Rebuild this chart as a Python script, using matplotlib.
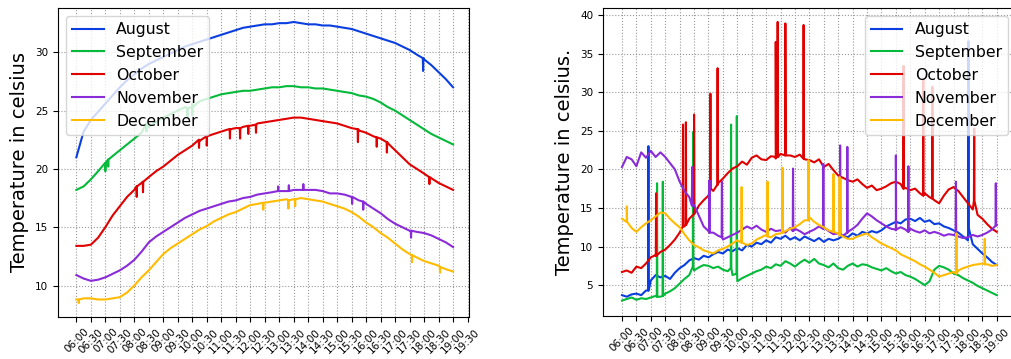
import numpy as np
import matplotlib
matplotlib.use("Agg")
import matplotlib.pyplot as plt

months = ["August", "September", "October", "November", "December"]
colors = ["#0a3ee0", "#05b93a", "#e10000", "#8a2bd8", "#ffbb00"]

tick_labels = ["06:00", "06:30", "07:00", "07:30", "08:00", "08:30", "09:00", "09:30",
               "10:00", "10:30", "11:00", "11:30", "12:00", "12:30", "13:00", "13:30",
               "14:00", "14:30", "15:00", "15:30", "16:00", "16:30", "17:00", "17:30",
               "18:00", "18:30", "19:00", "19:30"]

# ---------------- left chart: 15-minute values (06:00 .. 19:00) ----------------
left_minutes = np.arange(0, 781, 15)
left_aug = [21.0, 23.2, 24.2, 24.9, 25.6, 26.3, 27.0, 27.6, 28.1, 28.6, 29.0, 29.3,
            29.6, 29.9, 30.2, 30.5, 30.7, 30.9, 31.1, 31.3, 31.5, 31.7, 31.9, 32.1,
            32.2, 32.3, 32.4, 32.4, 32.5, 32.5, 32.6, 32.5, 32.4, 32.4, 32.3, 32.3,
            32.2, 32.1, 32.0, 31.8, 31.6, 31.4, 31.2, 31.0, 30.8, 30.5, 30.2, 29.8,
            29.4, 28.9, 28.3, 27.7, 27.0]
left_sep = [18.2, 18.5, 19.1, 19.8, 20.5, 21.1, 21.6, 22.1, 22.6, 23.1, 23.6, 24.0,
            24.4, 24.7, 25.0, 25.3, 25.6, 25.8, 26.0, 26.2, 26.4, 26.5, 26.6, 26.7,
            26.7, 26.8, 26.9, 27.0, 27.0, 27.1, 27.1, 27.0, 27.0, 26.9, 26.9, 26.8,
            26.7, 26.6, 26.5, 26.3, 26.2, 26.0, 25.7, 25.3, 25.0, 24.6, 24.2, 23.8,
            23.4, 23.0, 22.7, 22.4, 22.1]
left_oct = [13.4, 13.4, 13.5, 14.1, 15.0, 16.0, 16.8, 17.6, 18.2, 18.8, 19.3, 19.8,
            20.2, 20.7, 21.2, 21.6, 22.0, 22.4, 22.8, 23.0, 23.2, 23.4, 23.5, 23.6,
            23.7, 23.9, 24.0, 24.1, 24.2, 24.3, 24.4, 24.4, 24.3, 24.2, 24.1, 24.0,
            23.9, 23.7, 23.5, 23.3, 23.1, 22.8, 22.6, 22.2, 21.6, 21.0, 20.4, 20.0,
            19.6, 19.2, 18.8, 18.5, 18.2]
left_nov = [10.9, 10.6, 10.4, 10.5, 10.7, 11.0, 11.3, 11.7, 12.2, 12.9, 13.7, 14.2,
            14.6, 15.0, 15.4, 15.8, 16.1, 16.4, 16.6, 16.8, 17.0, 17.2, 17.3, 17.5,
            17.6, 17.8, 17.9, 18.0, 18.1, 18.1, 18.2, 18.2, 18.2, 18.2, 18.1, 17.9,
            17.9, 17.8, 17.6, 17.3, 17.0, 16.6, 16.2, 15.7, 15.3, 15.0, 14.7, 14.6,
            14.5, 14.3, 14.0, 13.7, 13.3]
left_dec = [8.8, 8.9, 8.9, 8.8, 8.8, 8.9, 9.0, 9.4, 10.0, 10.7, 11.3, 12.0,
            12.7, 13.2, 13.6, 14.0, 14.4, 14.8, 15.1, 15.5, 15.8, 16.1, 16.3, 16.6,
            16.9, 17.0, 17.1, 17.2, 17.3, 17.4, 17.4, 17.5, 17.4, 17.3, 17.2, 17.0,
            16.8, 16.6, 16.3, 15.9, 15.4, 15.0, 14.5, 14.1, 13.6, 13.1, 12.7, 12.4,
            12.1, 11.9, 11.7, 11.4, 11.2]

# spikes: (minute after 06:00, base value, spike value)
left_spk_aug = [(718, 29.5, 28.4)]
left_spk_sep = [(60, 20.5, 19.8), (66, 20.8, 20.2), (145, 23.9, 23.2), (230, 25.2, 24.5), (240, 25.3, 24.6)]
left_spk_oct = [(125, 18.5, 17.6), (138, 18.9, 18.0), (254, 22.5, 21.8), (270, 22.8, 22.0),
                (318, 23.4, 22.6), (339, 23.5, 22.6), (356, 23.7, 23.0), (372, 23.8, 23.1),
                (583, 23.4, 22.3), (622, 22.7, 21.9), (643, 22.3, 21.4), (731, 19.3, 18.7)]
left_spk_nov = [(418, 18.1, 18.5), (440, 18.1, 18.6), (470, 18.2, 18.7),
                (571, 17.6, 17.0), (594, 17.2, 16.5), (693, 14.7, 14.1)]
left_spk_dec = [(5, 8.8, 8.5), (387, 17.1, 16.5), (439, 17.3, 16.6), (453, 17.4, 16.8),
                (695, 12.6, 12.0), (753, 11.6, 11.1)]

# ---------------- right chart: 10-minute values (06:00 .. 19:00) ----------------
right_minutes = np.arange(0, 781, 10)
right_aug = [3.7, 3.5, 3.8, 3.9, 3.7, 4.3,
             5.6, 6.3, 6.0, 6.2, 5.8, 6.6,
             7.2, 7.6, 8.2, 8.5, 8.3, 8.8,
             8.6, 9.0, 9.3, 9.1, 9.6, 9.4,
             9.8, 9.5, 10.2, 10.0, 10.5, 10.3,
             10.8, 10.5, 11.2, 11.0, 11.4, 10.9,
             11.2, 10.8, 11.3, 11.0, 10.7, 11.1,
             10.6, 11.0, 10.8, 11.0, 11.4, 11.2,
             11.7, 11.4, 11.9, 11.7, 12.0, 11.8,
             12.1, 12.6, 12.9, 13.2, 13.0, 13.5,
             13.6, 13.3, 13.7, 13.2, 13.4, 12.9,
             13.0, 12.6, 12.4, 12.1, 11.8, 11.3,
             10.8, 10.3, 9.7, 9.1, 8.6, 8.0,
             7.6]
right_sep = [3.0, 3.2, 3.4, 3.1, 3.3, 3.2,
             3.4, 3.6, 3.5, 3.9, 4.2, 4.6,
             5.2, 5.8, 6.3, 6.9, 7.3, 7.6,
             7.5, 7.2, 7.4, 7.0, 6.8, 6.3,
             5.5, 5.9, 6.2, 6.5, 6.8, 7.0,
             7.4, 7.2, 7.7, 7.5, 8.1, 7.8,
             7.4, 7.9, 8.3, 7.9, 8.4, 7.8,
             7.6, 7.3, 7.8, 7.2, 7.0, 7.5,
             7.8, 7.4, 7.7, 7.6, 7.3, 7.1,
             6.9, 7.2, 6.8, 6.5, 6.7, 6.3,
             6.1, 5.8, 5.4, 5.0, 5.5, 7.0,
             7.5, 7.3, 7.0, 6.5, 6.3, 5.9,
             5.6, 5.3, 4.9, 4.6, 4.3, 4.0,
             3.7]
right_oct = [6.7, 6.9, 6.6, 7.4, 7.2, 7.8,
             8.6, 8.9, 9.3, 9.6, 10.2, 10.9,
             11.8, 12.6, 13.6, 14.8, 15.3, 16.0,
             16.6, 17.2, 18.2, 18.8, 19.5, 20.1,
             20.4, 21.0, 20.6, 21.5, 21.8, 21.3,
             21.2, 21.7, 21.4, 22.0, 22.3, 21.8,
             21.6, 21.9, 21.3, 21.2, 20.9, 21.3,
             20.3, 20.7, 19.9, 19.2, 18.9, 18.6,
             18.4, 18.7, 18.1, 17.6, 17.9, 17.3,
             17.5, 17.8, 18.2, 18.4, 18.1, 17.6,
             17.3, 17.5, 16.9, 16.9, 16.4, 16.0,
             15.6, 16.6, 17.4, 17.7, 17.2, 16.4,
             15.6, 14.8, 14.1, 13.6, 12.9, 12.3,
             11.9]
right_nov = [20.3, 21.6, 21.3, 20.4, 22.2, 21.5,
             22.4, 21.6, 22.2, 21.6, 20.8, 20.0,
             18.4, 17.2, 16.4, 15.4, 14.0, 12.6,
             12.0, 11.8, 11.4, 10.9, 11.2, 11.5,
             11.8, 12.2, 12.6, 12.3, 12.7, 12.2,
             11.9, 12.3, 12.0, 12.1, 11.8, 12.4,
             12.3, 12.0, 11.6, 11.9, 12.2, 12.6,
             12.5, 12.0, 11.6, 11.7, 11.4, 11.9,
             12.3, 12.8, 13.6, 14.3, 13.9, 13.4,
             13.0, 12.6, 12.3, 12.1, 12.5, 12.2,
             12.3, 12.0, 11.8, 12.1, 11.7, 11.9,
             11.7, 11.4, 11.6, 11.5, 11.3, 11.1,
             11.2, 11.5, 11.3, 11.5, 11.8, 12.2,
             12.8]
right_dec = [13.6, 13.2, 12.4, 11.9, 12.5, 13.0,
             13.4, 13.9, 14.4, 14.3, 13.6, 13.0,
             12.5, 11.6, 10.8, 10.2, 9.9, 9.5,
             9.3, 9.1, 9.5, 9.7, 10.0, 10.4,
             10.8, 10.5, 10.2, 10.4, 10.9, 11.2,
             11.5, 11.2, 11.6, 11.7, 12.0, 12.3,
             12.5, 12.9, 13.4, 13.8, 13.2, 12.8,
             12.5, 12.1, 11.9, 11.7, 11.3, 11.0,
             11.0, 11.3, 11.5, 11.7, 11.2, 10.8,
             10.4, 10.1, 9.8, 9.5, 9.0, 8.7,
             8.4, 8.1, 7.7, 7.4, 7.0, 6.6,
             6.1, 6.3, 6.5, 6.7, 6.9, 7.2,
             7.4, 7.6, 7.7, 7.8, 7.7, 7.5,
             7.6]

right_spk_aug = [(55, 4.3, 23.0), (721, 12.4, 36.6)]
right_spk_sep = [(73, 3.5, 18.2), (85, 3.6, 18.4), (148, 7.4, 24.8), (227, 7.2, 25.8), (239, 6.5, 26.9)]
right_spk_oct = [(71, 8.8, 16.9), (127, 12.6, 25.8), (133, 12.8, 26.1), (150, 14.2, 27.1),
                 (184, 17.5, 29.8), (199, 18.0, 33.1), (320, 21.6, 36.5), (324, 21.6, 39.1),
                 (340, 21.8, 38.9), (378, 21.4, 38.7), (586, 17.5, 33.4), (627, 16.6, 31.7),
                 (646, 16.2, 30.7), (733, 15.9, 25.3)]
right_spk_nov = [(146, 15.3, 20.3), (182, 11.8, 18.6), (208, 11.2, 18.4), (356, 12.0, 20.1),
                 (419, 12.3, 20.7), (454, 11.6, 23.1), (469, 11.8, 22.9), (570, 12.2, 21.8),
                 (596, 11.9, 20.4), (695, 11.5, 18.4), (778, 12.7, 18.2)]
right_spk_dec = [(10, 13.2, 15.2), (249, 10.5, 17.7), (303, 11.3, 18.4), (334, 11.8, 20.2),
                 (388, 13.4, 21.2), (440, 11.9, 19.4), (453, 11.5, 19.0), (696, 6.5, 11.7),
                 (755, 7.7, 11.0)]

left_series = [left_aug, left_sep, left_oct, left_nov, left_dec]
left_spikes = [left_spk_aug, left_spk_sep, left_spk_oct, left_spk_nov, left_spk_dec]
right_series = [right_aug, right_sep, right_oct, right_nov, right_dec]
right_spikes = [right_spk_aug, right_spk_sep, right_spk_oct, right_spk_nov, right_spk_dec]


def merge(minutes, values, spikes):
    pts = list(zip(minutes, values))
    for ts, base, peak in spikes:
        pts += [(ts - 0.6, base), (ts, peak), (ts + 0.6, base)]
    pts.sort(key=lambda p: p[0])
    return [p[0] for p in pts], [p[1] for p in pts]


W, H = 1012, 359
fig = plt.figure(figsize=(W / 100, H / 100), dpi=100)
axL = fig.add_axes([58 / W, 1 - 317 / H, (469 - 58) / W, (317 - 8) / H])
axR = fig.add_axes([603 / W, 1 - 316 / H, (1016 - 603) / W, (316 - 8) / H])

for ax, series, spikes, ntick, xlim, ylim, ylabel, loc in [
        (axL, left_series, left_spikes, 28, (-38, 813), (7.3, 33.8), "Temperature in celsius", "upper left"),
        (axR, right_series, right_spikes, 27, (-39.5, 820), (1.0, 40.9), "Temperature in celsius.", "upper right")]:
    mins = left_minutes if ax is axL else right_minutes
    for name, col, vals, spk in zip(months, colors, series, spikes):
        x, y = merge(mins, vals, spk)
        ax.plot(x, y, color=col, lw=1.5, label=name)
    ticks = np.arange(ntick) * 30
    ax.set_xticks(ticks)
    ax.set_xticklabels(tick_labels[:ntick], rotation=45, fontsize=7.5)
    ax.tick_params(axis="y", labelsize=7.5)
    ax.set_xlim(*xlim)
    ax.set_ylim(*ylim)
    ax.grid(True, linestyle=":", color="#999999", lw=0.8)
    ax.set_ylabel(ylabel, fontsize=14)
    ax.legend(loc=loc, fontsize=11.3)

fig.savefig("out.png", dpi=100)
